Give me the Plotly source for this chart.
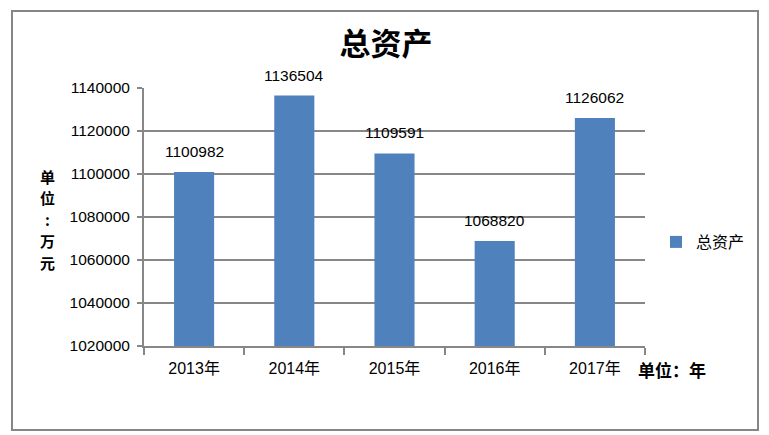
import plotly.graph_objects as go

years = ["2013年", "2014年", "2015年", "2016年", "2017年"]
total_assets = [1100982, 1136504, 1109591, 1068820, 1126062]
series_name = "总资产"
y_ticks = [1020000, 1040000, 1060000, 1080000, 1100000, 1120000, 1140000]
y_unit_chars = ["单", "位", ":", "万", "元"]

W, H = 769, 435
L, R, T, B = 144, 124, 88, 89
pw, ph = W - L - R, H - T - B


def px_x(x):
    return (x - L) / pw


def px_y(y):
    return (H - B - y) / ph


grid = "#878787"
num_font = dict(family="Liberation Sans, Arial", size=15.5, color="#000000")

fig = go.Figure()
fig.add_trace(go.Bar(
    x=years,
    y=total_assets,
    name=series_name,
    marker=dict(color="#4F81BD", line=dict(width=0)),
    showlegend=True,
))

# data labels above bars
for yr, v in zip(years, total_assets):
    fig.add_annotation(x=yr, y=v, text=str(v), showarrow=False,
                       yanchor="bottom", yshift=10, font=num_font)

fig.update_layout(
    width=W, height=H,
    margin=dict(l=L, r=R, t=T, b=B),
    plot_bgcolor="white", paper_bgcolor="white",
    bargap=0.6,
    title=dict(text="<b>总资产</b>", x=386 / W, xanchor="center",
               y=1 - 44 / H, yanchor="middle",
               font=dict(family="Noto Sans CJK SC", size=31, color="#000000")),
    legend=dict(x=px_x(656), y=px_y(242), xanchor="left", yanchor="middle",
                font=dict(family="Noto Sans CJK SC", size=16, color="#000000"),
                itemwidth=30, bgcolor="rgba(0,0,0,0)"),
    font=num_font,
)

fig.update_yaxes(
    range=[1020000, 1140000], tickvals=y_ticks, tickformat="d",
    showgrid=True, gridcolor=grid, gridwidth=2,
    showline=True, linecolor=grid, linewidth=2,
    ticks="outside", ticklen=5, tickcolor=grid, tickwidth=2,
    ticklabelstandoff=4,
    zeroline=False, tickfont=num_font,
)
fig.update_xaxes(
    showline=True, linecolor=grid, linewidth=2,
    ticks="outside", tickson="boundaries", ticklen=7, tickcolor=grid, tickwidth=2,
    ticklabelstandoff=7,
    tickfont=dict(family="Liberation Sans, Noto Sans CJK SC", size=16, color="#000000"),
)

# vertical y unit label, one character per line
for i, ch in enumerate(y_unit_chars):
    fig.add_annotation(xref="paper", yref="paper", x=px_x(47), y=px_y(176 + 21.5 * i),
                       xanchor="center", yanchor="middle",
                       text="<b>" + ch + "</b>", showarrow=False,
                       font=dict(family="Noto Sans CJK SC", size=15, color="#000000"))
fig.add_annotation(xref="paper", yref="paper", x=px_x(672), y=px_y(369),
                   xanchor="center", yanchor="middle",
                   text="<b>单位：年</b>", showarrow=False,
                   font=dict(family="Noto Sans CJK SC", size=17, color="#000000"))

# chart border
fig.add_shape(type="rect", xref="paper", yref="paper",
              x0=px_x(12), x1=px_x(758), y0=px_y(430), y1=px_y(11),
              line=dict(color="#868686", width=2), layer="below")

fig.write_html("out.html", config={"displayModeBar": False},
               post_script="document.body.style.margin='0';")
